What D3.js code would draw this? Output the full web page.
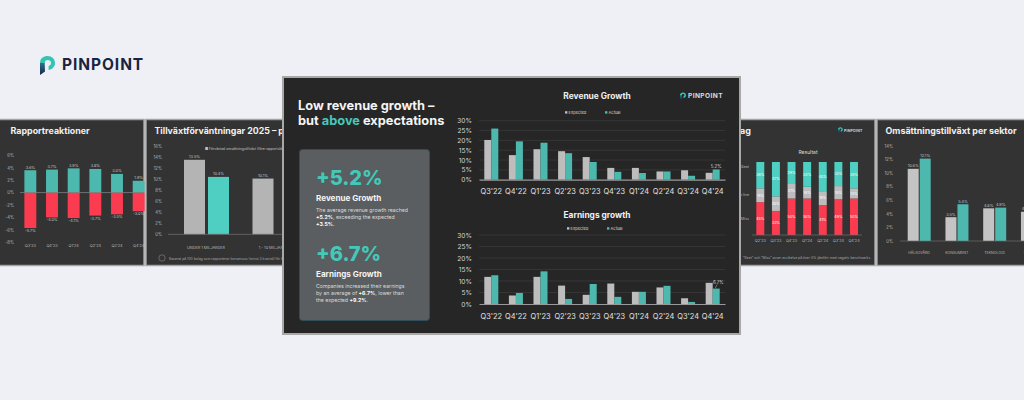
<!DOCTYPE html>
<html>
<head>
<meta charset="utf-8">
<script src="https://cdn.jsdelivr.net/npm/d3@7/dist/d3.min.js"></script>
<style>
html,body{margin:0;padding:0;background:#eef0f6;overflow:hidden}
svg{display:block}
text{font-family:Inter,"Open Sans",sans-serif}
</style>
</head>
<body>
<svg id="page" width="1024" height="400"></svg>
<script>
// Quarterly growth, percent
const quarters = ["Q3'22","Q4'22","Q1'23","Q2'23","Q3'23","Q4'23","Q1'24","Q2'24","Q3'24","Q4'24"];
const revenueExpected = [20.2,12.5,15.5,14.5,11.5,6,6,4.2,4.8,3.5];
const revenueActual = [26,19.5,18.8,13.5,9,4,3.4,4.2,2,5.2];
const earningsExpected = [11.8,3.7,11.8,8,4,8.9,5.3,7.2,2.5,9.2];
const earningsActual = [12.5,4.8,14.2,2.2,8.7,3.1,5.3,7.9,0.9,6.7];
const growthTicks = [0,5,10,15,20,25,30];

// Report reactions
const reactionQuarters = ["Q3'23","Q4'23","Q1'24","Q2'24","Q3'24","Q4'24"];
const reactionUp = [3.6,3.7,3.9,3.8,3.0,1.9];
const reactionDown = [-5.7,-4.0,-4.1,-3.7,-3.5,-3.0];
const reactionTicks = [6,4,2,0,-2,-4,-6,-8];

// Growth expectations by company size
const sizeGroups = ["UNDER 1 MILJARDER","1 - 10 MILJARDER"];
const sizeFirst = [13.5,10.1];
const sizeSecond = [10.4,null];
const sizeTicks = [0,2,4,6,8,10,12,14,16];

// Outcome shares per quarter
const outcomeQuarters = ["Q2'23","Q3'23","Q4'23","Q1'24","Q2'24","Q3'24","Q4'24"];
const outcomeMiss = [45,33,50,50,41,49,50];
const outcomeInline = [19,20,21,16,19,18,14];
const outcomeBeat = [36,47,29,34,40,33,36];
const outcomeKinds = ["Miss","In line","Beat"];

// Revenue growth by sector
const sectors = ["HÄLSOVÅRD","KONSUMENT","TEKNOLOGI","INDUSTRI"];
const sectorExpected = [10.6,3.5,4.8,4.3];
const sectorActual = [12.1,5.4,4.9,null];
const sectorTicks = [0,2,4,6,8,10,12,14];

const grey = "#bdbdbd", teal = "#4db8ae", brightTeal = "#4fcfc1", red = "#fb3b50", textTeal = "#45c8b9";
const svg = d3.select("#page");

const defs = svg.append("defs");
const stemGrad = defs.append("linearGradient").attr("id","stem").attr("x1",0).attr("y1",0).attr("x2",0).attr("y2",1);
stemGrad.append("stop").attr("offset",0).attr("stop-color","#2a7f9a");
stemGrad.append("stop").attr("offset",1).attr("stop-color","#1b2547");

// Brand mark plus word, scaled from a 15x20 box
function logo(parent, x, y, k, color, size, gap){
  const g = parent.append("g").attr("transform",`translate(${x},${y})`);
  const m = g.append("g").attr("transform",`scale(${k})`);
  m.append("path").attr("fill","url(#stem)").attr("d","M0 8 L4.6 6 L5 16.6 L0 20 Z");
  m.append("path").attr("fill","#35c4b4").attr("d","M0 8 C0 3,3.6 1,7.6 1 C12 1,15 4,15 8 C15 12,12 14.6,8.6 15 L8.6 11 C10 10.6,11 9.6,11 8 C11 6,9.6 5,7.8 5 C6 5,4.8 6,4.6 8 Z");
  g.append("text").attr("x",15*k+gap).attr("y",15*k).attr("fill",color)
    .attr("font-size",size).attr("font-weight",700).attr("letter-spacing",size*0.06).text("PINPOINT");
}

function panel(x,y,w,h,fill,strokeWidth){
  const g = svg.append("g");
  g.append("rect").attr("x",x).attr("y",y).attr("width",w).attr("height",h).attr("fill",fill)
    .attr("stroke","#a3a3a3").attr("stroke-width",strokeWidth);
  return g;
}

function tinyAxis(g, scale, ticks, x, fmt){
  const ax = g.append("g").attr("transform",`translate(${x},0)`)
    .call(d3.axisLeft(scale).tickValues(ticks).tickSize(0).tickFormat(fmt));
  ax.select(".domain").remove();
  ax.selectAll("text").attr("fill","#b5b5b5").attr("font-size",4.2).attr("text-anchor","end");
}

function tinyLabel(g,x,y,t,fill="#c4c4c4",size=3.8,anchor="middle"){
  g.append("text").attr("x",x).attr("y",y).attr("fill",fill).attr("font-size",size).attr("text-anchor",anchor).text(t);
}

const pct = d=>d+"%";
const pct1 = d=>d.toFixed(1)+"%";

// Report reactions
{
  const g = panel(-2,119.5,146,146,"#333333",1.5);
  g.append("text").attr("x",10.5).attr("y",134).attr("fill","#f0f0f0").attr("font-size",8.9).attr("font-weight",700).text("Rapportreaktioner");
  const y = d3.scaleLinear().domain([-8,6]).range([242.3,155.3]);
  const x = d3.scaleBand().domain(reactionQuarters).range([19.5,149.5]).paddingInner(0.45).paddingOuter(0.225);
  tinyAxis(g,y,reactionTicks,17,pct);
  g.selectAll("rect.up").data(reactionUp).join("rect").attr("class","up")
    .attr("x",(d,i)=>x(reactionQuarters[i])).attr("width",x.bandwidth())
    .attr("y",d=>y(d)).attr("height",d=>y(0)-y(d)).attr("fill",teal);
  g.selectAll("rect.down").data(reactionDown).join("rect").attr("class","down")
    .attr("x",(d,i)=>x(reactionQuarters[i])).attr("width",x.bandwidth())
    .attr("y",y(0)).attr("height",d=>y(d)-y(0)).attr("fill",red);
  g.append("line").attr("x1",20).attr("x2",144).attr("y1",y(0)).attr("y2",y(0)).attr("stroke","#8a8a8a").attr("stroke-width",.7);
  reactionUp.forEach((d,i)=>tinyLabel(g,x(reactionQuarters[i])+x.bandwidth()/2,y(d)-1.5,pct1(d)));
  reactionDown.forEach((d,i)=>tinyLabel(g,x(reactionQuarters[i])+x.bandwidth()/2,y(d)+4,pct1(d)));
  reactionQuarters.forEach(q=>tinyLabel(g,x(q)+x.bandwidth()/2,247,q,"#b5b5b5",3.8));
}

// Growth expectations
{
  const g = panel(146,119.5,140,146,"#333333",1.5);
  g.append("text").attr("x",154.5).attr("y",134).attr("fill","#f0f0f0").attr("font-size",8.8).attr("font-weight",700).text("Tillväxtförväntningar 2025 – per storlek");
  const y = d3.scaleLinear().domain([0,16]).range([234.3,146]);
  const x = d3.scaleBand().domain(sizeGroups).range([175,312]).paddingInner(0).paddingOuter(0);
  const bw = 21, off = 9;
  tinyAxis(g,y,sizeTicks,165,pct);
  tinyLabel(g,205,149.5,"■ Förväntad omsättningstillväxt (före rapportsläpp)","#c4c4c4",3.4,"start");
  g.selectAll("rect.a").data(sizeFirst).join("rect").attr("class","a")
    .attr("x",(d,i)=>x(sizeGroups[i])+off).attr("width",bw).attr("y",d=>y(d)).attr("height",d=>y(0)-y(d)).attr("fill","#b4b4b4");
  g.selectAll("rect.b").data(sizeSecond.filter(d=>d!=null)).join("rect").attr("class","b")
    .attr("x",(d,i)=>x(sizeGroups[i])+off+bw+3).attr("width",bw).attr("y",d=>y(d)).attr("height",d=>y(0)-y(d)).attr("fill",brightTeal);
  g.append("line").attr("x1",168).attr("x2",282).attr("y1",y(0)).attr("y2",y(0)).attr("stroke","#6f6f6f").attr("stroke-width",.8);
  sizeFirst.forEach((d,i)=>tinyLabel(g,x(sizeGroups[i])+off+bw/2,y(d)-2,pct1(d)));
  tinyLabel(g,x(sizeGroups[0])+off+bw+3+bw/2,y(sizeSecond[0])-2,pct1(sizeSecond[0]));
  sizeGroups.forEach(s=>tinyLabel(g,x(s)+off+bw+1,249,s,"#b5b5b5",3.8));
  g.append("circle").attr("cx",162).attr("cy",258).attr("r",3.2).attr("fill","none").attr("stroke","#8a8a8a").attr("stroke-width",.6);
  tinyLabel(g,169,259.5,"Baserat på 100 bolag som rapporterar konsensus (minst 3 kvartal) för helåret","#a8a8a8",3.4,"start");
}

// Outcome shares
{
  const g = panel(730,119.5,145,146,"#333333",1.5);
  g.append("text").attr("x",751).attr("y",134).attr("fill","#f0f0f0").attr("font-size",9).attr("font-weight",700).attr("text-anchor","end").text("Rapportutslag");
  logo(g,838,127,0.32,"#cfd4d6",3.5,1.2);
  tinyLabel(g,808,154,"Resultat","#dddddd",5);
  const y = d3.scaleLinear().domain([0,100]).range([235,162]);
  const x = d3.scaleBand().domain(outcomeQuarters).range([752.5,861.8]).paddingInner(0.49).paddingOuter(0.245);
  const stacked = d3.stack().keys(["miss","inline","beat"])(outcomeQuarters.map((q,i)=>({q,miss:outcomeMiss[i],inline:outcomeInline[i],beat:outcomeBeat[i]})));
  const fills = [red,"#bdbdbd",brightTeal];
  stacked.forEach((s,k)=>{
    g.append("g").selectAll("rect").data(s).join("rect")
      .attr("x",d=>x(d.data.q)).attr("width",x.bandwidth())
      .attr("y",d=>y(d[1])).attr("height",d=>y(d[0])-y(d[1])).attr("fill",fills[k]);
    s.forEach(d=>tinyLabel(g,x(d.data.q)+x.bandwidth()/2,(y(d[0])+y(d[1]))/2+1.3,(d[1]-d[0])+"%","#ffffff",3.6));
  });
  // Row names next to the first column, centred on its segments
  const first = stacked.map(s=>(y(s[0][0])+y(s[0][1]))/2);
  outcomeKinds.forEach((k,i)=>tinyLabel(g,749,first[i]+(i===1?1:i===0?1:-7.5),k,"#b5b5b5",3.6,"end"));
  g.append("line").attr("x1",752).attr("x2",862).attr("y1",y(0)).attr("y2",y(0)).attr("stroke","#6f6f6f").attr("stroke-width",.7);
  outcomeQuarters.forEach(q=>tinyLabel(g,x(q)+x.bandwidth()/2,242,q,"#b5b5b5",3.8));
  tinyLabel(g,743,258.8,"”Beat” och ”Miss” avser avvikelse på över 5% jämfört med negativ benchmarks","#a8a8a8",3.4,"start");
}

// Sector growth
{
  const g = panel(877,119.5,150,146,"#333333",1.5);
  g.append("text").attr("x",885.5).attr("y",134).attr("fill","#f0f0f0").attr("font-size",8.9).attr("font-weight",700).text("Omsättningstillväxt per sektor");
  const y = d3.scaleLinear().domain([0,14]).range([241,145.7]);
  const x = d3.scaleBand().domain(sectors).range([900,1051]).paddingInner(0).paddingOuter(0);
  tinyAxis(g,y,sectorTicks,896,pct);
  const bw = 11;
  g.selectAll("rect.e").data(sectorExpected).join("rect").attr("class","e")
    .attr("x",(d,i)=>x(sectors[i])+7.7).attr("width",bw).attr("y",d=>y(d)).attr("height",d=>y(0)-y(d)).attr("fill","#c4c4c4");
  g.selectAll("rect.f").data(sectorActual.filter(d=>d!=null)).join("rect").attr("class","f")
    .attr("x",(d,i)=>x(sectors[i])+19.7).attr("width",bw).attr("y",d=>y(d)).attr("height",d=>y(0)-y(d)).attr("fill",teal);
  g.append("line").attr("x1",900).attr("x2",1024).attr("y1",y(0)).attr("y2",y(0)).attr("stroke","#6f6f6f").attr("stroke-width",.7);
  sectorExpected.forEach((d,i)=>tinyLabel(g,x(sectors[i])+13.2,y(d)-1.5,pct1(d)));
  sectorActual.forEach((d,i)=>{ if(d!=null) tinyLabel(g,x(sectors[i])+25.2,y(d)-1.5,pct1(d)); });
  sectors.forEach(s=>tinyLabel(g,x(s)+19,254,s,"#b5b5b5",3.6));
}

// Main slide
const main = panel(283,77,457,257,"#262626",2);
main.select("rect").attr("stroke","#a8a8a8");

const headline = main.append("g").attr("fill","#f4f4f4").attr("font-size",12.8).attr("font-weight",700);
headline.append("text").attr("x",298).attr("y",110).text("Low revenue growth –");
const h2 = headline.append("text").attr("x",298).attr("y",124.5);
h2.append("tspan").text("but ");
h2.append("tspan").attr("fill",textTeal).text("above");
h2.append("tspan").text(" expectations");

main.append("rect").attr("x",299.5).attr("y",149.5).attr("width",130).attr("height",171).attr("rx",3)
  .attr("fill","#5a5e60").attr("stroke","#2f4f5c").attr("stroke-width",1);

function statBlock(value, heading, lines, y0){
  main.append("text").attr("x",316).attr("y",y0).attr("fill",textTeal).attr("font-size",20).attr("font-weight",800).text(value);
  main.append("text").attr("x",316).attr("y",y0+16).attr("fill","#f4f4f4").attr("font-size",8.1).attr("font-weight",700).text(heading);
  lines.forEach((parts,i)=>{
    const t = main.append("text").attr("x",316).attr("y",y0+26.5+i*7).attr("fill","#dcdcdc").attr("font-size",5.2);
    parts.forEach(p=>t.append("tspan").attr("font-weight",p[1]?700:400).attr("fill",p[1]?"#ffffff":"#dcdcdc").text(p[0]));
  });
}
statBlock("+5.2%","Revenue Growth",[
  [["The average revenue growth reached",0]],
  [["+5.2%",1],[", exceeding the expected",0]],
  [["+3.5%",1],[".",0]]
],185);
statBlock("+6.7%","Earnings Growth",[
  [["Companies increased their earnings",0]],
  [["by an average of ",0],["+6.7%",1],[", lower than",0]],
  [["the expected ",0],["+9.2%",1],[".",0]]
],261);

logo(main,680,92,0.4,"#d9dcde",6.6,2);

function growthChart(title, expected, actual, yTop, yBottom, titleY, legendY, note){
  const g = main.append("g");
  const y = d3.scaleLinear().domain([0,30]).range([yBottom,yTop]);
  const x = d3.scaleBand().domain(quarters).range([479,725]).paddingInner(0.43).paddingOuter(0.215);
  const sub = d3.scaleBand().domain(["e","a"]).range([0,x.bandwidth()]);

  g.append("text").attr("x",597).attr("y",titleY).attr("text-anchor","middle").attr("fill","#f0f0f0")
    .attr("font-size",8.4).attr("font-weight",700).text(title);

  [["Expected",565,grey],["Actual",605,teal]].forEach(([t,lx,c],i)=>{
    const dx = note.legendShift;
    g.append("rect").attr("x",lx+dx).attr("y",legendY-1.5).attr("width",2.4).attr("height",2.4).attr("fill",c);
    g.append("text").attr("x",lx+dx+3.6).attr("y",legendY+1).attr("fill","#d8d8d8").attr("font-size",4).text(t);
  });

  const yAxis = g.append("g").attr("transform","translate(472,0)")
    .call(d3.axisLeft(y).tickValues(growthTicks).tickSize(0).tickPadding(0).tickFormat(pct));
  yAxis.select(".domain").remove();
  yAxis.selectAll("text").attr("fill","#d4d4d4").attr("font-size",6.6);

  g.append("g").selectAll("line").data(growthTicks.filter(d=>d>0)).join("line")
    .attr("x1",479).attr("x2",725).attr("y1",d=>y(d)).attr("y2",d=>y(d)).attr("stroke","#3a3a3a").attr("stroke-width",.8);

  g.append("g").selectAll("rect").data(expected).join("rect")
    .attr("x",(d,i)=>x(quarters[i])+sub("e")).attr("width",sub.bandwidth())
    .attr("y",d=>y(d)).attr("height",d=>y(0)-y(d)).attr("fill",grey);
  g.append("g").selectAll("rect").data(actual).join("rect")
    .attr("x",(d,i)=>x(quarters[i])+sub("a")).attr("width",sub.bandwidth())
    .attr("y",d=>y(d)).attr("height",d=>y(0)-y(d)).attr("fill",teal);

  const xAxis = g.append("g").attr("transform",`translate(0,${yBottom})`)
    .call(d3.axisBottom(x).tickSize(0).tickPadding(9.5));
  xAxis.select(".domain").attr("stroke","#9a9a9a").attr("stroke-width",1.2);
  xAxis.selectAll("text").attr("fill","#e2e2e2").attr("font-size",7.4);

  const last = actual[actual.length-1];
  const lx = x(quarters[9])+sub("a")+sub.bandwidth()/2 + note.dx;
  g.append("text").attr("x",lx).attr("y",note.y).attr("text-anchor","middle").attr("fill","#d8d8d8").attr("font-size",4.4).text(last.toFixed(1)+"%");
  if(note.leader){
    g.append("line").attr("x1",lx-1).attr("x2",lx-3).attr("y1",note.y+1).attr("y2",y(last)-.5).attr("stroke","#bdbdbd").attr("stroke-width",.5);
  }
}

growthChart("Revenue Growth",revenueExpected,revenueActual,120.7,179.7,99,112.7,{legendShift:0,dx:0,y:167.5,leader:false});
growthChart("Earnings growth",earningsExpected,earningsActual,235,304,218,228.7,{legendShift:2,dx:2,y:283.5,leader:true});

// Company mark on the page background
logo(svg,40,55,1,"#1c2340",15.5,7);
</script>
</body>
</html>
